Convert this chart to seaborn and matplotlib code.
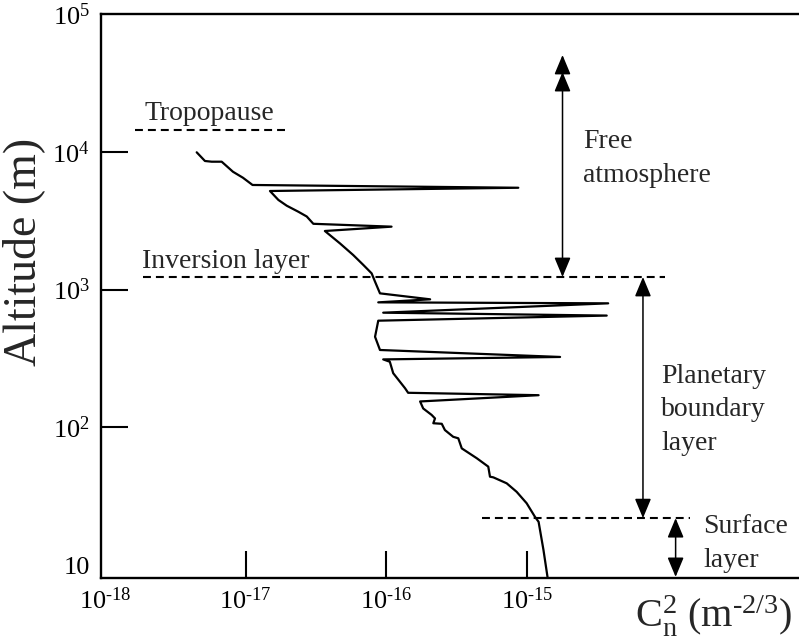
import matplotlib
matplotlib.use("Agg")
import matplotlib.pyplot as plt
import pandas as pd
import seaborn as sns

cn2 = [4.49e-18, 5.14e-18, 5.74e-18, 6.76e-18, 8.13e-18, 9.57e-18, 1.12e-17, 8.68e-16,
       1.49e-17, 1.71e-17, 1.96e-17, 2.37e-17, 2.72e-17, 3.03e-17, 1.09e-16, 3.66e-17,
       4.69e-17, 5.82e-17, 6.86e-17, 7.87e-17, 8.32e-17, 9.02e-17, 2.05e-16, 8.77e-17,
       3.78e-15, 9.51e-17, 3.69e-15, 8.77e-17, 8.32e-17, 9.02e-17, 1.72e-15, 9.51e-17,
       1.06e-16, 1.12e-16, 1.36e-16, 1.43e-16, 1.21e-15, 1.74e-16, 1.83e-16, 2.10e-16,
       2.22e-16, 2.16e-16, 2.48e-16, 2.61e-16, 2.99e-16, 3.25e-16, 3.44e-16, 4.40e-16,
       5.31e-16, 5.46e-16, 5.77e-16, 7.18e-16, 8.45e-16, 9.95e-16, 1.14e-15, 1.21e-15,
       1.31e-15, 1.40e-15]
altitude = [9910, 8570, 8470, 8470, 7160, 6480, 5740, 5480,
            5190, 4470, 4060, 3670, 3390, 3000, 2860, 2660,
            2160, 1780, 1510, 1310, 1140, 938, 849, 807,
            794, 679, 647, 594, 454, 364, 324, 311,
            299, 247, 192, 178, 171, 154, 137, 123,
            116, 107, 106, 95.5, 85.3, 83.2, 70.3, 59.6,
            51.8, 43.8, 43.3, 39.2, 34.0, 28.1, 22.4, 20.6,
            12.9, 8.2]

# layer boundaries: altitude and horizontal extent of each dashed line
layer_names = ["Tropopause", "Inversion layer", "Surface"]
layer_alt = [1.44e4, 1233, 21.9]
layer_xmin = [1.63e-18, 1.86e-18, 4.79e-16]
layer_xmax = [1.97e-17, 9.6e-15, 1.44e-14]

# vertical extent arrows for each region
region_x = [1.79e-15, 6.68e-15, 1.14e-14]
region_bottom = [1233, 21.9, 8.2]
region_top = [3.79e4, 1233, 21.9]
free_top_extra = 5.04e4

xticks = [1e-18, 1e-17, 1e-16, 1e-15]
xtick_labels = [r"$10^{\text{-}18}$", r"$10^{\text{-}17}$", r"$10^{\text{-}16}$",
                r"$10^{\text{-}15}$"]
yticks = [10, 1e2, 1e3, 1e4, 1e5]
ytick_labels = ["10", r"$10^{2}$", r"$10^{3}$", r"$10^{4}$", r"$10^{5}$"]

sns.set_style("white")
plt.rcParams["font.family"] = ["Liberation Serif", "DejaVu Serif"]
plt.rcParams["mathtext.fontset"] = "custom"
plt.rcParams["mathtext.rm"] = "Liberation Serif"
plt.rcParams["mathtext.it"] = "Liberation Serif:italic"

fig = plt.figure(figsize=(7.99, 6.4), dpi=100)
ax = fig.add_axes([101 / 799, 62 / 640, 698 / 799, 564 / 640])

profile = pd.DataFrame({"cn2": cn2, "altitude": altitude})
sns.lineplot(data=profile, x="cn2", y="altitude", sort=False, estimator=None,
             color="black", linewidth=1.6, ax=ax)

ax.set_xscale("log")
ax.set_yscale("log")
ax.set_xlim(10 ** -18.028, 10 ** -13.066)
ax.set_ylim(10 ** 0.906, 1e5)

# dashed layer boundaries
for alt, x0, x1 in zip(layer_alt, layer_xmin, layer_xmax):
    ax.plot([x0, x1], [alt, alt], color="black", linewidth=1.5,
            dashes=(3.8, 2.4))

arrow_kw = dict(arrowstyle="<|-|>,head_length=1.2,head_width=0.5",
                color="black", linewidth=1.1, shrinkA=0, shrinkB=0,
                mutation_scale=10)
for x, y0, y1 in zip(region_x, region_bottom, region_top):
    ax.annotate("", xy=(x, y1), xytext=(x, y0), arrowprops=arrow_kw)
ax.annotate("", xy=(region_x[0], free_top_extra), xytext=(region_x[0], region_top[0] * 1.02),
            arrowprops=dict(arrowstyle="-|>,head_length=1.2,head_width=0.5",
                            color="black", linewidth=1.1, shrinkA=0, shrinkB=0,
                            mutation_scale=10))

# region labels (y is the baseline of the last line)
fs = 20
ax.text(1.92e-18, 1.70e4, "Tropopause", fontsize=fs, ha="left", va="baseline")
ax.text(1.83e-18, 1432, "Inversion layer", fontsize=fs, ha="left", va="baseline")
ax.text(2.52e-15, 6062, "Free\natmosphere", fontsize=fs, ha="left",
        va="baseline", linespacing=1.45)
ax.text(8.97e-15, 68.4, "Planetary\nboundary\nlayer", fontsize=fs, ha="left",
        va="baseline", linespacing=1.45)
ax.text(1.80e-14, 9.72, "Surface\nlayer", fontsize=fs, ha="left",
        va="baseline", linespacing=1.45)

ax.set_xticks(xticks)
ax.set_xticklabels(xtick_labels)
ax.set_yticks(yticks)
ax.set_yticklabels(ytick_labels)
ax.minorticks_off()
ax.tick_params(axis="both", direction="in", length=19.5, width=1.5,
               labelsize=19, colors="black", bottom=True, left=True,
               top=False, right=False)
ax.tick_params(axis="x", pad=7)
ax.tick_params(axis="y", pad=8)
ax.xaxis.get_major_ticks()[0].tick1line.set_visible(False)
ax.yaxis.get_major_ticks()[0].tick1line.set_visible(False)
ax.yaxis.get_major_ticks()[-1].tick1line.set_visible(False)

for side in ["left", "bottom", "top"]:
    ax.spines[side].set_linewidth(1.7)
    ax.spines[side].set_color("black")
ax.spines["right"].set_visible(False)

ax.set_ylabel("Altitude (m)", fontsize=33)
ax.yaxis.set_label_coords(-0.080, 0.578)
ax.set_xlabel(r"$\mathrm{C}_\mathrm{n}^{2}$ (m$^{\text{-}2/3}$)", fontsize=29)
ax.xaxis.label.set_va("baseline")
ax.xaxis.set_label_coords(0.878, -0.086)

fig.savefig("out.png", dpi=100)
